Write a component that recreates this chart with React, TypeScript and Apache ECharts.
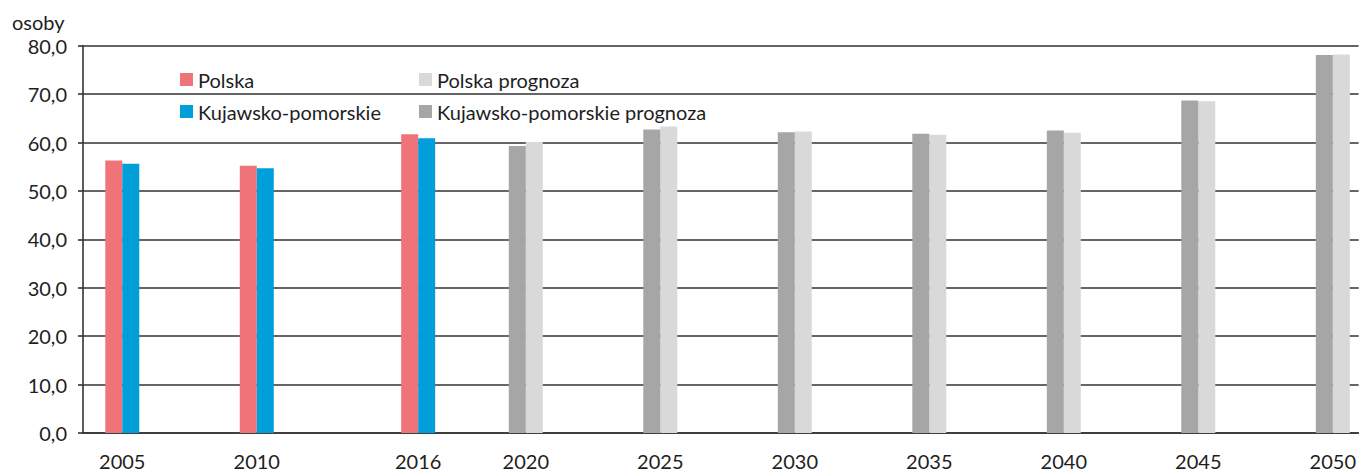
import React, { useEffect, useRef } from "react";
import * as echarts from "echarts";

const years = [2005, 2010, 2016, 2020, 2025, 2030, 2035, 2040, 2045, 2050];
const polska = [56.3, 55.2, 61.7, null, null, null, null, null, null, null];
const kujawsko = [55.6, 54.7, 60.9, null, null, null, null, null, null, null];
const polskaPrognoza = [null, null, null, 60.1, 63.3, 62.3, 61.6, 62.0, 68.5, 78.2];
const kujawskoPrognoza = [null, null, null, 59.3, 62.7, 62.1, 61.8, 62.5, 68.7, 78.1];
const yTicks = [0, 10, 20, 30, 40, 50, 60, 70, 80];

const FONT = "Lato";
const TXT = "#1e1e1e";
const GRID = "#333333";

function pairs(vals: (number | null)[]) {
  return years.map((y, i) => [y, vals[i] === null ? null : vals[i]]);
}

export default function App() {
  const ref = useRef<HTMLDivElement>(null);
  useEffect(() => {
    document.body.style.margin = "0";
    if (!ref.current) return;
    const chart = echarts.init(ref.current, undefined, { renderer: "svg" });
    const barCommon = { type: "bar", barWidth: 17, barGap: "0%" };
    chart.setOption({
      animation: false,
      grid: { left: 83, right: 0, top: 45.7, bottom: 40, containLabel: false },
      graphic: [
        {
          type: "text",
          left: 12,
          top: 12,
          style: { text: "osoby", font: `20px ${FONT}`, fill: TXT },
        },
      ],
      legend: [
        {
          orient: "vertical",
          left: 180,
          top: 69.5,
          itemWidth: 13,
          itemHeight: 13,
          itemGap: 12,
          icon: "rect",
          textStyle: { fontFamily: FONT, fontSize: 20, color: TXT, lineHeight: 20 },
          data: ["Polska", "Kujawsko-pomorskie"],
          padding: 0,
        },
        {
          orient: "vertical",
          left: 419,
          top: 69.5,
          itemWidth: 13,
          itemHeight: 13,
          itemGap: 12,
          icon: "rect",
          textStyle: { fontFamily: FONT, fontSize: 20, color: TXT, lineHeight: 20 },
          data: ["Polska prognoza", "Kujawsko-pomorskie prognoza"],
          padding: 0,
        },
      ],
      xAxis: {
        type: "value",
        min: 2003.54,
        max: 2050.96,
        splitLine: { show: false },
        axisTick: { show: false },
        axisLine: { show: true, lineStyle: { color: GRID, width: 1.6 } },
        axisLabel: {
          customValues: years,
          formatter: (v: number) => String(Math.round(v)),
          fontFamily: FONT,
          fontSize: 20,
          color: TXT,
          margin: 18,
        },
      },
      yAxis: {
        type: "value",
        min: 0,
        max: 80,
        interval: 10,
        axisLine: { show: true, lineStyle: { color: GRID, width: 1.6 } },
        axisTick: { show: true, inside: false, length: 5, lineStyle: { color: GRID, width: 1.6 } },
        splitLine: { show: true, lineStyle: { color: GRID, width: 1.6 } },
        axisLabel: {
          customValues: yTicks,
          formatter: (v: number) => v.toFixed(1).replace(".", ","),
          fontFamily: FONT,
          fontSize: 20,
          color: TXT,
          margin: 16,
        },
      },
      series: [
        { ...barCommon, name: "Polska", stack: "L", itemStyle: { color: "#EE747A" }, data: pairs(polska) },
        { ...barCommon, name: "Kujawsko-pomorskie", stack: "R", itemStyle: { color: "#009FDA" }, data: pairs(kujawsko) },
        { ...barCommon, name: "Polska prognoza", stack: "R", itemStyle: { color: "#D9D9D9" }, data: pairs(polskaPrognoza) },
        { ...barCommon, name: "Kujawsko-pomorskie prognoza", stack: "L", itemStyle: { color: "#A6A6A6" }, data: pairs(kujawskoPrognoza) },
      ],
    });
    return () => chart.dispose();
  }, []);
  return <div ref={ref} style={{ width: 1359, height: 473 }} />;
}
